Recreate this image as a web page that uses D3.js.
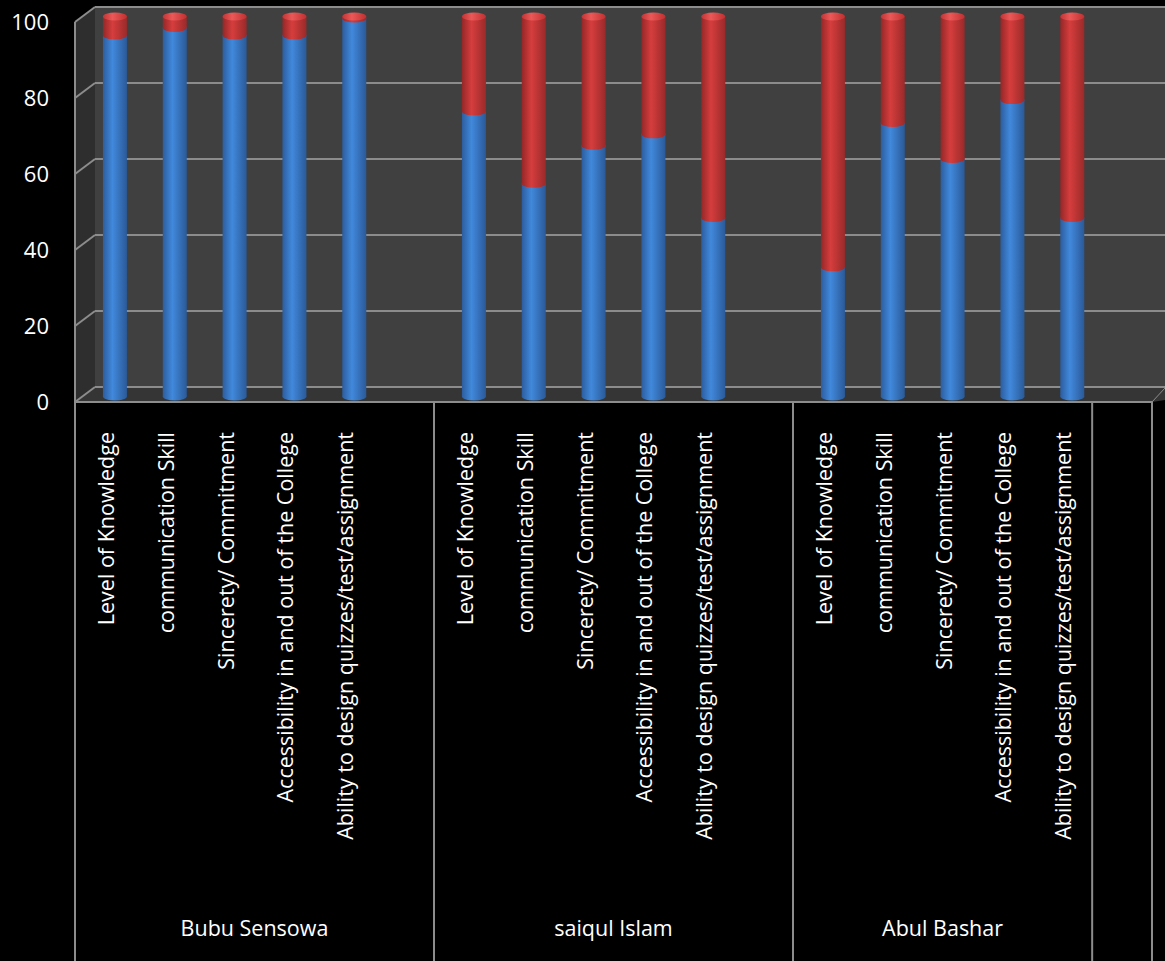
<meta charset="utf-8">
<html>
<head>
<style>
  body { margin: 0; background: #000; }
  text { font-family: "Open Sans", sans-serif; fill: #fff; }
</style>
</head>
<body>
<div id="chart"></div>
<script src="https://d3js.org/d3.v7.min.js"></script>
<script>
// data (percent)
var teachers = ["Bubu Sensowa", "saiqul Islam", "Abul Bashar"];
var criteria = ["Level of Knowledge", "communication Skill", "Sincerety/ Commitment",
                "Accessibility in and out of the College", "Ability to design quizzes/test/assignment"];
var blueVals = [[95, 97, 95, 95, 99.5],
                [75, 56, 66, 69, 47],
                [34, 72, 62.5, 78, 47]];
var redVals  = [[5, 3, 5, 5, 0.5],
                [25, 44, 34, 31, 53],
                [66, 28, 37.5, 22, 53]];
var yTicks = [0, 20, 40, 60, 80, 100];

var W = 1165, H = 961;
var left = 75, right = 1152, floorY = 402, topY = 22;
var dx = 20, dy = -15; // depth offset of back wall

var svg = d3.select("#chart").append("svg")
    .attr("width", W).attr("height", H);

// slots: each teacher has 5 criteria + one empty slot, last group is an empty category
var slots = [];
teachers.forEach(function(t, ti) {
  criteria.forEach(function(c, ci) { slots.push(ti + "-" + ci); });
  if (ti < teachers.length - 1) slots.push("gap" + ti);
});
slots.push("empty");

var x = d3.scaleBand().domain(slots).range([left, right]);
var y = d3.scaleLinear().domain([0, 100]).range([floorY, topY]);

// gradients
var defs = svg.append("defs");
function cylGrad(id, dark, light, edge) {
  var g = defs.append("linearGradient").attr("id", id)
      .attr("x1", "0%").attr("x2", "100%").attr("y1", "0%").attr("y2", "0%");
  g.append("stop").attr("offset", "0%").attr("stop-color", dark);
  g.append("stop").attr("offset", "40%").attr("stop-color", light);
  g.append("stop").attr("offset", "100%").attr("stop-color", edge);
}
cylGrad("blueG", "#2c5d9e", "#4189dc", "#2a5a98");
cylGrad("redG", "#952727", "#d63d3d", "#9a2a2a");
cylGrad("capG", "#c23434", "#ec5858", "#c03030");

// walls
var xEnd = W;
svg.append("polygon") // back wall
    .attr("points", [[left + dx, y(100) + dy], [xEnd, y(100) + dy], [xEnd, y(0) + dy], [left + dx, y(0) + dy]].join(" "))
    .attr("fill", "#404040");
svg.append("polygon") // side wall
    .attr("points", [[left, y(100)], [left + dx, y(100) + dy], [left + dx, y(0) + dy], [left, y(0)]].join(" "))
    .attr("fill", "#2e2e2e");
svg.append("polygon") // floor
    .attr("points", [[left, y(0)], [left + dx, y(0) + dy], [xEnd, y(0) + dy], [xEnd, y(0) - 2], [right, y(0)]].join(" "))
    .attr("fill", "#353535");

// gridlines
yTicks.forEach(function(v) {
  svg.append("line")
      .attr("x1", left + dx).attr("x2", xEnd)
      .attr("y1", y(v) + dy).attr("y2", y(v) + dy)
      .attr("stroke", "#8c8c8c").attr("stroke-width", 2);
  svg.append("line")
      .attr("x1", left).attr("x2", left + dx)
      .attr("y1", y(v)).attr("y2", y(v) + dy)
      .attr("stroke", "#8c8c8c").attr("stroke-width", 2);
});
svg.append("line").attr("x1", left).attr("x2", left)
    .attr("y1", y(100)).attr("y2", y(0))
    .attr("stroke", "#8c8c8c").attr("stroke-width", 2);
svg.append("line").attr("x1", right).attr("x2", xEnd)
    .attr("y1", y(0)).attr("y2", y(0) - 14)
    .attr("stroke", "#8c8c8c").attr("stroke-width", 1);

// y axis labels
svg.append("g").selectAll("text").data(yTicks).enter().append("text")
    .attr("x", 49).attr("y", function(d) { return y(d); })
    .attr("dy", "0.36em")
    .attr("text-anchor", "end")
    .style("font-size", "22px")
    .text(function(d) { return d; });

// bars as cylinders, at mid depth
var bw = 24, ry = 4;
var bars = [];
teachers.forEach(function(t, ti) {
  criteria.forEach(function(c, ci) {
    bars.push({key: ti + "-" + ci, blue: blueVals[ti][ci], red: redVals[ti][ci]});
  });
});
var bg = svg.append("g").attr("transform", "translate(" + (dx / 2) + "," + (dy / 2 + 2) + ")");
bars.forEach(function(d) {
  var cx = x(d.key) + x.bandwidth() / 2;
  var x0 = cx - bw / 2;
  var y0 = y(0), y1 = y(d.blue), y2 = y(d.blue + d.red);
  // blue body
  bg.append("rect").attr("x", x0).attr("y", y1).attr("width", bw).attr("height", y0 - y1)
      .attr("fill", "url(#blueG)");
  bg.append("ellipse").attr("cx", cx).attr("cy", y0).attr("rx", bw / 2).attr("ry", ry)
      .attr("fill", "url(#blueG)");
  bg.append("ellipse").attr("cx", cx).attr("cy", y1).attr("rx", bw / 2).attr("ry", ry)
      .attr("fill", "url(#blueG)");
  // red body
  bg.append("rect").attr("x", x0).attr("y", y2).attr("width", bw).attr("height", y1 - y2)
      .attr("fill", "url(#redG)");
  bg.append("ellipse").attr("cx", cx).attr("cy", y1).attr("rx", bw / 2).attr("ry", ry)
      .attr("fill", "url(#redG)");
  bg.append("ellipse").attr("cx", cx).attr("cy", y2).attr("rx", bw / 2).attr("ry", ry)
      .attr("fill", "url(#capG)");
});

// category axis: boxes
var groupEdges = [left, x("gap0") + x.bandwidth(), x("gap1") + x.bandwidth(), x("empty"), right];
svg.append("line").attr("x1", left).attr("x2", right)
    .attr("y1", floorY).attr("y2", floorY)
    .attr("stroke", "#8c8c8c").attr("stroke-width", 2);
groupEdges.forEach(function(e) {
  svg.append("line").attr("x1", e).attr("x2", e)
      .attr("y1", floorY).attr("y2", H)
      .attr("stroke", "#8c8c8c").attr("stroke-width", 2);
});

// criteria labels, rotated
bars.forEach(function(d) {
  var cx = x(d.key) + x.bandwidth() / 2;
  var ci = +d.key.split("-")[1];
  svg.append("text")
      .attr("transform", "translate(" + (cx + 9) + "," + 432 + ") rotate(-90)")
      .attr("text-anchor", "end")
      .style("font-size", "21.5px")
      .text(criteria[ci]);
});

// teacher labels
teachers.forEach(function(t, ti) {
  svg.append("text")
      .attr("x", (groupEdges[ti] + groupEdges[ti + 1]) / 2)
      .attr("y", 936)
      .attr("text-anchor", "middle")
      .style("font-size", "21.5px")
      .text(t);
});
</script>
</body>
</html>
